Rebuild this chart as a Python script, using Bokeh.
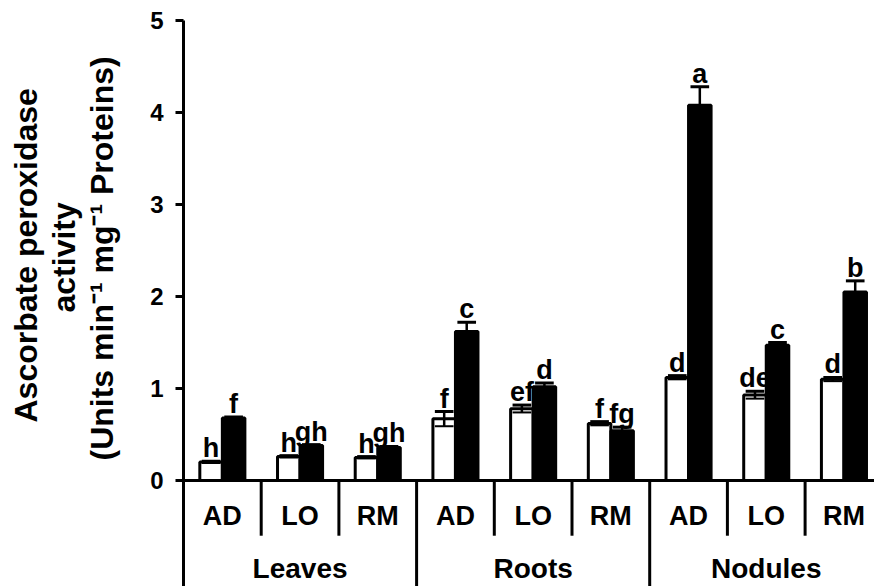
from bokeh.plotting import figure
from bokeh.models import Range1d, FixedTicker, Span, Title
from bokeh.core.properties import value
from bokeh.embed import file_html
from bokeh.resources import INLINE

# ---- data ----
tissues = ["Leaves", "Roots", "Nodules"]
treatments = ["AD", "LO", "RM"]
white_vals = [0.20, 0.26, 0.25, 0.67, 0.78, 0.62, 1.12, 0.93, 1.10]
white_err = [0.01, 0.01, 0.01, 0.08, 0.04, 0.02, 0.02, 0.04, 0.02]
black_vals = [0.68, 0.38, 0.36, 1.62, 1.02, 0.54, 4.08, 1.47, 2.05]
black_err = [0.01, 0.01, 0.01, 0.10, 0.04, 0.04, 0.20, 0.03, 0.12]
white_letters = ["h", "h", "h", "f", "ef", "f", "d", "de", "d"]
black_letters = ["f", "gh", "gh", "c", "d", "fg", "a", "c", "b"]
y_ticks = [0, 1, 2, 3, 4, 5]
y_title = ["Ascorbate peroxidase", "activity", "(Units min\u207b\u00b9 mg\u207b\u00b9 Proteins)"]

FONT = "Liberation Sans"
n = len(white_vals)
centers = [i + 0.5 for i in range(n)]
bw = 0.29
xw = [c - bw / 2 for c in centers]
xb = [c + bw / 2 for c in centers]

GROUP_PX = 77.7
LEFT = 183
W, H = 874, 586
x_end = (W - LEFT) / GROUP_PX

p = figure(width=W, height=H, output_backend="svg", toolbar_location=None,
           x_range=Range1d(0, x_end), y_range=Range1d(-1.152, 5))
p.min_border_left = LEFT
p.min_border_top = 20
p.min_border_bottom = 0
p.min_border_right = 0
p.outline_line_color = None
p.xgrid.visible = False
p.ygrid.visible = False
p.xaxis.visible = False
p.background_fill_color = "white"
p.border_fill_color = "white"

# y axis
ya = p.yaxis[0]
ya.ticker = FixedTicker(ticks=y_ticks)
ya.axis_line_width = 3
ya.axis_line_color = "black"
ya.major_tick_line_width = 3
ya.major_tick_out = 8
ya.major_tick_in = 0
ya.minor_tick_line_color = None
ya.major_label_text_font = FONT
ya.major_label_text_font_style = "bold"
ya.major_label_text_font_size = "24px"
ya.major_label_text_color = "black"
ya.major_label_standoff = 12
# blank axis label used only as a spacer between tick labels and the title lines
ya.axis_label = " "
ya.axis_label_text_font_size = "12px"
ya.axis_label_standoff = 11

# y title as three rotated lines (side titles, innermost first)
# offsets place each line's start so that the lines are centred near y=257px
offsets = [164, 274, 126]
for txt, off in reversed(list(zip(y_title, offsets))):
    p.add_layout(Title(text=txt, align="left", offset=off, standoff=0,
                       text_font=FONT, text_font_style="bold", text_font_size="32px",
                       text_color="black"), "left")

# baseline at zero
p.add_layout(Span(location=0, dimension="width", line_color="black", line_width=3))

# bars
p.vbar(x=xw, top=white_vals, bottom=0, width=bw, fill_color="white",
       line_color="black", line_width=3)
p.vbar(x=xb, top=black_vals, bottom=0, width=bw, fill_color="black",
       line_color="black", line_width=3)

# error bars
cap = 0.12
for xs, vals, errs, show_low in ((xw, white_vals, white_err, True), (xb, black_vals, black_err, False)):
    lo = [v - e for v, e in zip(vals, errs)]
    hi = [v + e for v, e in zip(vals, errs)]
    p.segment(x0=xs, y0=lo, x1=xs, y1=hi, line_color="black", line_width=2.5)
    p.segment(x0=[x - cap for x in xs], y0=hi, x1=[x + cap for x in xs], y1=hi,
              line_color="black", line_width=3)
    if show_low:
        p.segment(x0=[x - cap for x in xs], y0=lo, x1=[x + cap for x in xs], y1=lo,
                  line_color="black", line_width=2)

# significance letters
for xs, vals, errs, letters in ((xw, white_vals, white_err, white_letters),
                                (xb, black_vals, black_err, black_letters)):
    p.text(x=xs, y=[v + e for v, e in zip(vals, errs)], text=letters,
           text_align="center", text_baseline="alphabetic", y_offset=-13,
           text_font=value(FONT), text_font_style="bold", text_font_size="27px",
           text_color="black")

# category separators
short_x = [i for i in range(1, n) if i % 3 != 0]
long_x = [i for i in range(3, n + 1, 3)]
p.segment(x0=short_x, y0=[0] * len(short_x), x1=short_x, y1=[-0.6] * len(short_x),
          line_color="black", line_width=3)
p.segment(x0=long_x, y0=[0] * len(long_x), x1=long_x, y1=[-1.3] * len(long_x),
          line_color="black", line_width=3)

# category labels
p.text(x=centers, y=[-0.489] * n, text=treatments * len(tissues),
       text_align="center", text_baseline="alphabetic", y_offset=-10,
       text_font=value(FONT), text_font_style="bold", text_font_size="27px",
       text_color="black")
p.text(x=[3 * i + 1.5 for i in range(len(tissues))], y=[-1.109] * len(tissues),
       text=tissues, text_align="center", text_baseline="alphabetic", y_offset=-14,
       text_font=value(FONT), text_font_style="bold", text_font_size="28px",
       text_color="black")

open("out.html", "w").write(file_html(p, INLINE))
